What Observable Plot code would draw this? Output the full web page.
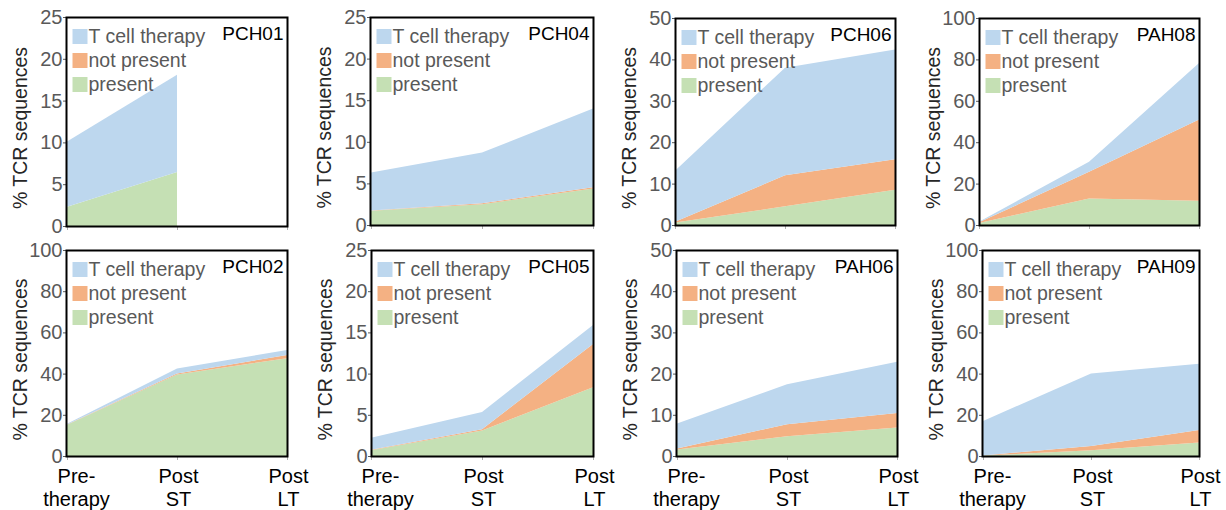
<!DOCTYPE html>
<html><head><meta charset="utf-8">
<script src="https://cdn.jsdelivr.net/npm/d3@7"></script>
<script src="https://cdn.jsdelivr.net/npm/@observablehq/plot@0.6"></script>
<style>
body{margin:0;background:#fff;}
#chart{position:relative;width:1226px;height:510px;overflow:hidden;font-family:"Liberation Sans",Arial,sans-serif;}
#chart svg{position:absolute;background:none;max-width:none;overflow:visible;}
</style></head><body><div id="chart"></div>
<script>
// ---- data ----
const stages = ["Pre-therapy", "Post ST", "Post LT"];
const stageLabels = ["Pre-\ntherapy", "Post\nST", "Post\nLT"];
const seriesNames = ["present", "not present", "T cell therapy"];
const legendOrder = ["T cell therapy", "not present", "present"];
const seriesColors = ["#c5e0b4", "#f4b183", "#bdd7ee"];
const panels = ["PCH01", "PCH04", "PCH06", "PAH08", "PCH02", "PCH05", "PAH06", "PAH09"];
const yMax = [25, 25, 50, 100, 100, 25, 50, 100];
const yStep = [5, 5, 10, 20, 20, 5, 10, 20];
const yLabel = "% TCR sequences";
// layer thickness per stage (PCH01 has no Post LT sample)
const present = [
  [2.3, 6.45],
  [1.7, 2.5, 4.4],
  [0.6, 4.5, 8.5],
  [1.0, 12.8, 11.7],
  [15.2, 39.6, 47.5],
  [0.7, 3.1, 8.35],
  [1.6, 4.8, 6.9],
  [0.2, 2.75, 6.5]
];
const notPresent = [
  [0, 0],
  [0.05, 0.1, 0.15],
  [0.2, 7.5, 7.4],
  [0.3, 12.9, 39.3],
  [0.1, 0.4, 1.5],
  [0.05, 0.15, 5.25],
  [0.2, 2.9, 3.55],
  [0.1, 2.1, 6.1]
];
const tCell = [
  [7.8, 11.65],
  [4.55, 6.1, 9.45],
  [12.3, 26.0, 26.5],
  [0.3, 4.8, 27.3],
  [0.4, 2.5, 2.4],
  [1.45, 2.1, 2.3],
  [6.1, 9.7, 12.45],
  [16.7, 35.25, 32.2]
];

// ---- layout (frame rectangles in page pixels) ----
const layout = [
  {l: 66, r: 287, t: 17, b: 226, row: 0},
  {l: 370, r: 593, t: 17, b: 225, row: 0},
  {l: 675, r: 895, t: 18, b: 225, row: 0},
  {l: 979, r: 1199, t: 18, b: 225, row: 0},
  {l: 66, r: 287, t: 250, b: 456, row: 1},
  {l: 371, r: 593, t: 250, b: 456, row: 1},
  {l: 676, r: 897, t: 250, b: 456, row: 1},
  {l: 982, r: 1199, t: 250, b: 456, row: 1}
];

const chart = document.getElementById("chart");
const valueSets = [present, notPresent, tCell];

panels.forEach((name, k) => {
  const L = layout[k];
  const rowTop = L.row === 0 ? 0 : 235;
  const H = L.row === 0 ? 240 : 275;
  const mL = 66, mR = 18;
  const mT = L.t - rowTop, mB = H - (L.b - rowTop);
  const W = (L.r - L.l) + mL + mR;

  const rows = [];
  seriesNames.forEach((s, j) => {
    valueSets[j][k].forEach((v, i) => rows.push({stage: stages[i], series: s, value: v}));
  });

  const marks = [
    Plot.areaY(rows, {x: "stage", y: "value", fill: "series", order: seriesNames, curve: "linear"}),
    Plot.axisY({ticks: d3.range(0, yMax[k] + 0.001, yStep[k]), tickSize: 3, tickPadding: 1, fontSize: 20, color: "#595959", label: null}),
    Plot.axisX({tickSize: 4, color: "#b0b0b0", tickFormat: () => "", label: null}),
    Plot.frame({stroke: "#000", strokeWidth: 2}),
    Plot.text([yLabel], {text: d => d, frameAnchor: "left", textAnchor: "middle", lineAnchor: "middle", rotate: -90, dx: -46, dy: 6, fontSize: 19.5, fill: "#262626"}),
    Plot.text([name], {text: d => d, frameAnchor: "top-right", dx: -4, dy: 16, lineAnchor: "middle", textAnchor: "end", fontSize: 19, fill: "#000"})
  ];
  legendOrder.forEach((s, j) => {
    marks.push(Plot.dot([s], {frameAnchor: "top-left", dx: 13.5, dy: 19 + 24 * j, symbol: "square", r: 8.46, fill: seriesColors[seriesNames.indexOf(s)]}));
    marks.push(Plot.text([s], {text: d => d, frameAnchor: "top-left", dx: 22, dy: 19 + 24 * j, lineAnchor: "middle", textAnchor: "start", fontSize: 19.5, fill: "#595959"}));
  });
  if (L.row === 1) {
    const lab = stages.map((s, i) => ({s, t: stageLabels[i]}));
    marks.push(Plot.text(lab.slice(0, 1), {x: "s", text: "t", frameAnchor: "bottom", dy: 10, dx: 9, lineAnchor: "top", fontSize: 20, lineHeight: 1.15, fill: "#000"}));
    marks.push(Plot.text(lab.slice(1), {x: "s", text: "t", frameAnchor: "bottom", dy: 10, dx: 1, lineAnchor: "top", fontSize: 20, lineHeight: 1.15, fill: "#000"}));
  }

  const svg = Plot.plot({
    width: W, height: H,
    marginLeft: mL, marginRight: mR, marginTop: mT, marginBottom: mB,
    style: {fontFamily: '"Liberation Sans", Arial, sans-serif', background: "none", overflow: "visible"},
    x: {type: "point", domain: stages, padding: 0},
    y: {domain: [0, yMax[k]]},
    color: {domain: seriesNames, range: seriesColors},
    marks
  });
  svg.style.left = (L.l - mL) + "px";
  svg.style.top = rowTop + "px";
  chart.appendChild(svg);
});
</script></body></html>
